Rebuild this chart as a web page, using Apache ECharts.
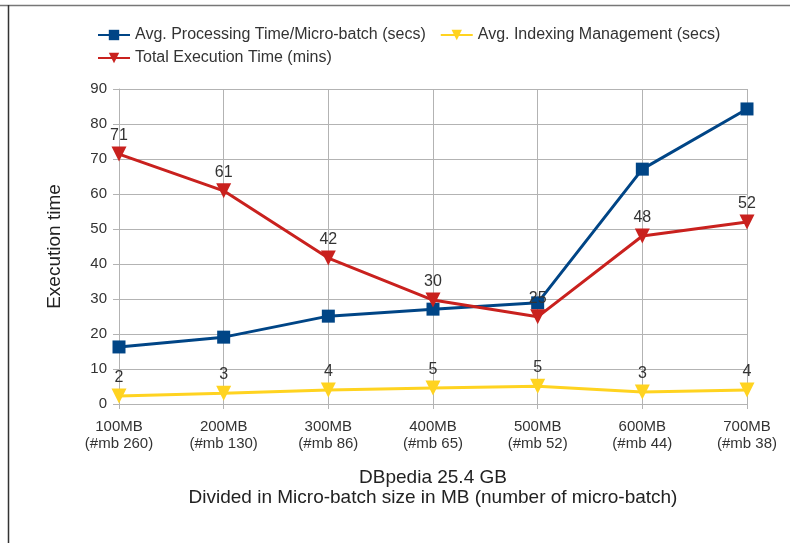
<!DOCTYPE html>
<html><head><meta charset="utf-8">
<script src="https://cdn.jsdelivr.net/npm/echarts@6/dist/echarts.min.js"></script>
<style>html,body{margin:0;padding:0;background:#fff}#c{width:790px;height:543px}</style>
</head><body><div id="c"></div>
<script>
const categories = ['100MB\n(#mb 260)','200MB\n(#mb 130)','300MB\n(#mb 86)','400MB\n(#mb 65)','500MB\n(#mb 52)','600MB\n(#mb 44)','700MB\n(#mb 38)'];
const processingTime = [16.3, 19.1, 25.1, 27.1, 28.9, 67.1, 84.3];
const indexingMgmt = [2.3, 3.1, 4.0, 4.6, 5.1, 3.4, 4.0];
const totalExec = [71.4, 60.9, 41.7, 29.7, 24.9, 48.0, 52.0];
const names = ['Avg. Processing Time/Micro-batch (secs)','Avg. Indexing Management (secs)','Total Execution Time (mins)'];

const font = 'Liberation Sans, Arial, sans-serif';
const chart = echarts.init(document.getElementById('c'));
const lbl = {show:true, position:'top', distance:3, color:'#333', fontSize:16, fontFamily:font,
  formatter: p => Math.round(p.value)};
chart.setOption({
  animation:false,
  textStyle:{fontFamily:font},
  graphic:[
    {type:'line', shape:{x1:0,y1:5.5,x2:790,y2:5.5}, style:{stroke:'#777',lineWidth:1.5}},
    {type:'line', shape:{x1:8.5,y1:5,x2:8.5,y2:543}, style:{stroke:'#333',lineWidth:1.5}}
  ],
  legend:[
    {left:92, top:22, itemWidth:32, itemHeight:13, itemGap:14, data:[names[0],names[1]],
     textStyle:{fontSize:16, color:'#333', fontFamily:font}},
    {left:92, top:45, itemWidth:32, itemHeight:13, data:[names[2]],
     textStyle:{fontSize:16, color:'#333', fontFamily:font}}
  ],
  grid:{left:119, right:43, top:89, bottom:139, containLabel:false},
  xAxis:{type:'category', data:categories, boundaryGap:false,
    name:'DBpedia 25.4 GB\nDivided in Micro-batch size in MB (number of micro-batch)',
    nameLocation:'middle', nameGap:64,
    nameTextStyle:{fontSize:19, color:'#222', lineHeight:20, fontFamily:font},
    axisLine:{lineStyle:{color:'#b3b3b3'}},
    axisTick:{show:true, alignWithLabel:true, length:5, lineStyle:{color:'#b3b3b3'}},
    axisLabel:{fontSize:15, color:'#333', lineHeight:17, margin:14, fontFamily:font, interval:0},
    splitLine:{show:true, lineStyle:{color:'#b3b3b3'}}
  },
  yAxis:{type:'value', min:0, max:90, interval:10,
    name:'Execution time', nameLocation:'middle', nameGap:55,
    nameTextStyle:{fontSize:19, color:'#222', fontFamily:font},
    axisLine:{show:true, lineStyle:{color:'#b3b3b3'}},
    axisTick:{show:true, length:6, lineStyle:{color:'#b3b3b3'}},
    axisLabel:{fontSize:15, color:'#333', margin:12, fontFamily:font},
    splitLine:{lineStyle:{color:'#b3b3b3'}}
  },
  series:[
    {name:names[0], type:'line', data:processingTime, color:'#004586',
     symbol:'rect', symbolSize:13, lineStyle:{width:3}, z:3},
    {name:names[1], type:'line', data:indexingMgmt, color:'#ffd320',
     symbol:'triangle', symbolRotate:180, symbolSize:15, lineStyle:{width:3}, label:lbl, z:2},
    {name:names[2], type:'line', data:totalExec, color:'#c9211e',
     symbol:'triangle', symbolRotate:180, symbolSize:15, lineStyle:{width:3}, label:lbl, z:4}
  ]
});
</script></body></html>
